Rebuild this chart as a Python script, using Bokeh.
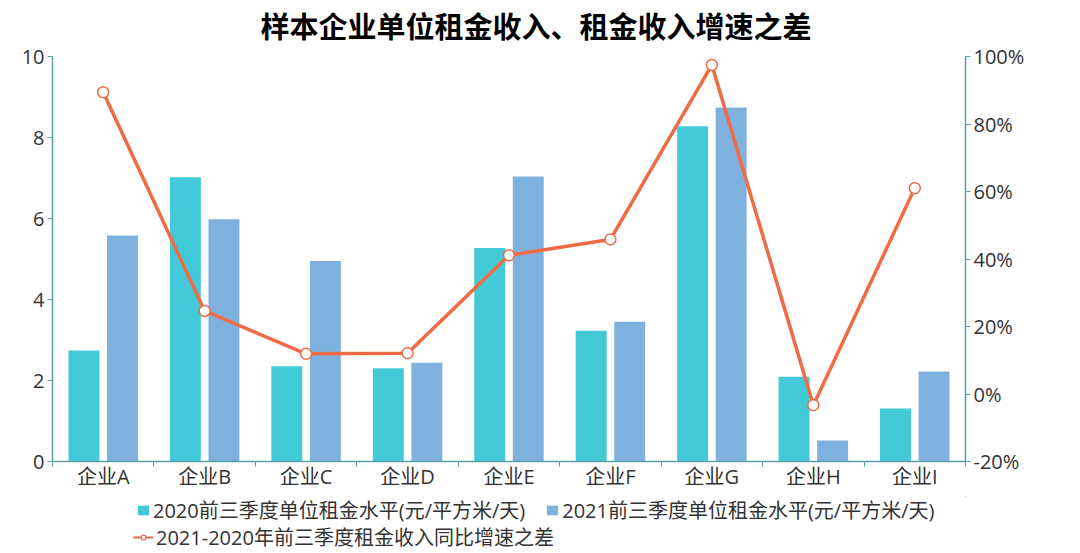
import numpy as np
from bokeh.plotting import figure
from bokeh.layouts import column
from bokeh.models import (Range1d, LinearAxis, FixedTicker, NumeralTickFormatter,
                          Legend, LegendItem, ColumnDataSource)
from bokeh.embed import file_html
from bokeh.resources import INLINE

categories = ["企业A", "企业B", "企业C", "企业D", "企业E", "企业F", "企业G", "企业H", "企业I"]
rent_2020 = [2.74, 7.02, 2.35, 2.30, 5.27, 3.23, 8.28, 2.09, 1.31]
rent_2021 = [5.58, 5.98, 4.95, 2.44, 7.04, 3.45, 8.74, 0.52, 2.22]
growth_diff = [0.894, 0.246, 0.119, 0.121, 0.411, 0.458, 0.975, -0.033, 0.610]
left_ticks = [0, 2, 4, 6, 8, 10]
right_ticks = [-0.2, 0.0, 0.2, 0.4, 0.6, 0.8, 1.0]
name_2020 = "2020前三季度单位租金水平(元/平方米/天)"
name_2021 = "2021前三季度单位租金水平(元/平方米/天)"
name_diff = "2021-2020年前三季度租金收入同比增速之差"

FONT = "'Open Sans', 'Noto Sans CJK SC'"
TFONT = "'Liberation Sans', 'Noto Sans CJK SC'"
AXIS_COLOR = "#5e9ea6"
TEXT_COLOR = "#333333"
C2020 = "#42cad8"
C2021 = "#7fb1de"
CLINE = "#ef6b45"

xc = np.arange(len(categories)) + 0.5
src = ColumnDataSource(dict(x1=xc - 0.19, x2=xc + 0.19, a=rent_2020, b=rent_2021,
                            xc=xc, g=growth_diff))

p = figure(width=1064, height=496, x_range=Range1d(0, len(categories)),
           y_range=Range1d(0, 10), output_backend="svg", toolbar_location=None,
           min_border_left=52, min_border_right=99, min_border_top=55, min_border_bottom=35)
p.extra_y_ranges = {"pct": Range1d(-0.2, 1.0)}

p.title.text = "样本企业单位租金收入、租金收入增速之差"
p.title.align = "left"
p.title.vertical_align = "top"
p.title.text_font = TFONT
p.title.text_font_size = "29px"
p.title.text_font_style = "bold"
p.title.text_color = "#000000"
p.title.offset = 208
p.title.standoff = 22

p.xgrid.visible = False
p.ygrid.visible = False
p.outline_line_color = None

p.vbar(x="x1", top="a", width=0.305, source=src, fill_color=C2020, line_color=None)
p.vbar(x="x2", top="b", width=0.305, source=src, fill_color=C2021, line_color=None)
p.line(x="xc", y="g", source=src, y_range_name="pct", line_color=CLINE, line_width=3.5)
p.scatter(x="xc", y="g", source=src, y_range_name="pct", size=11, fill_color="white",
          line_color=CLINE, line_width=1.5)

# x axis
xa = p.xaxis[0]
xa.ticker = FixedTicker(ticks=list(xc), minor_ticks=list(range(len(categories) + 1)))
xa.major_label_overrides = {float(v): c for v, c in zip(xc, categories)}

# left y
ya = p.yaxis[0]
ya.ticker = FixedTicker(ticks=left_ticks)

# right y
ra = LinearAxis(y_range_name="pct", ticker=FixedTicker(ticks=right_ticks),
                formatter=NumeralTickFormatter(format="0%"))
p.add_layout(ra, "right")

for ax in [xa, ya, ra]:
    ax.axis_line_color = AXIS_COLOR
    ax.axis_line_width = 1.5
    ax.major_tick_line_color = AXIS_COLOR
    ax.major_tick_in = 0
    ax.major_tick_out = 5
    ax.minor_tick_line_color = None
    ax.major_label_text_font = FONT
    ax.major_label_text_font_size = "20px"
    ax.major_label_text_color = TEXT_COLOR
    ax.major_label_standoff = 3

xa.major_tick_line_color = None
xa.minor_tick_line_color = AXIS_COLOR
xa.minor_tick_in = 0
xa.minor_tick_out = 5
xa.major_label_standoff = -4

# legend strip below the chart: same series drawn outside its (empty) view,
# so that only the legend shows
q = figure(width=1064, height=56, x_range=Range1d(-100, -99), y_range=Range1d(-100, -99),
           output_backend="svg", toolbar_location=None,
           min_border_left=0, min_border_right=0, min_border_top=0, min_border_bottom=0)
q.axis.visible = False
q.xgrid.visible = False
q.ygrid.visible = False
q.outline_line_color = None
e1 = q.vbar(x="x1", top="a", width=0.305, source=src, fill_color=C2020, line_color=None)
e2 = q.vbar(x="x2", top="b", width=0.305, source=src, fill_color=C2021, line_color=None)
e3 = q.line(x="xc", y="g", source=src, line_color=CLINE, line_width=2)
e4 = q.scatter(x="xc", y="g", source=src, size=10, fill_color="white",
               line_color=CLINE, line_width=1.2)

leg1 = Legend(items=[LegendItem(label=name_2020, renderers=[e1]),
                     LegendItem(label=name_2021, renderers=[e2])],
              orientation="horizontal", location=(84, 28))
leg2 = Legend(items=[LegendItem(label=name_diff, renderers=[e3, e4])],
              orientation="horizontal", location=(81, 1))
for lg in [leg1, leg2]:
    lg.margin = 0
    lg.padding = 0
    lg.spacing = 20
    lg.border_line_color = None
    lg.background_fill_alpha = 0
    lg.label_text_font = FONT
    lg.label_text_font_size = "20px"
    lg.label_text_color = TEXT_COLOR
    lg.label_standoff = 3
    lg.label_height = 20
    lg.glyph_height = 12
    lg.glyph_width = 14
    q.add_layout(lg, "center")
leg2.glyph_width = 20

layout = column(p, q, spacing=0)
open("out.html", "w").write(file_html(layout, INLINE))
